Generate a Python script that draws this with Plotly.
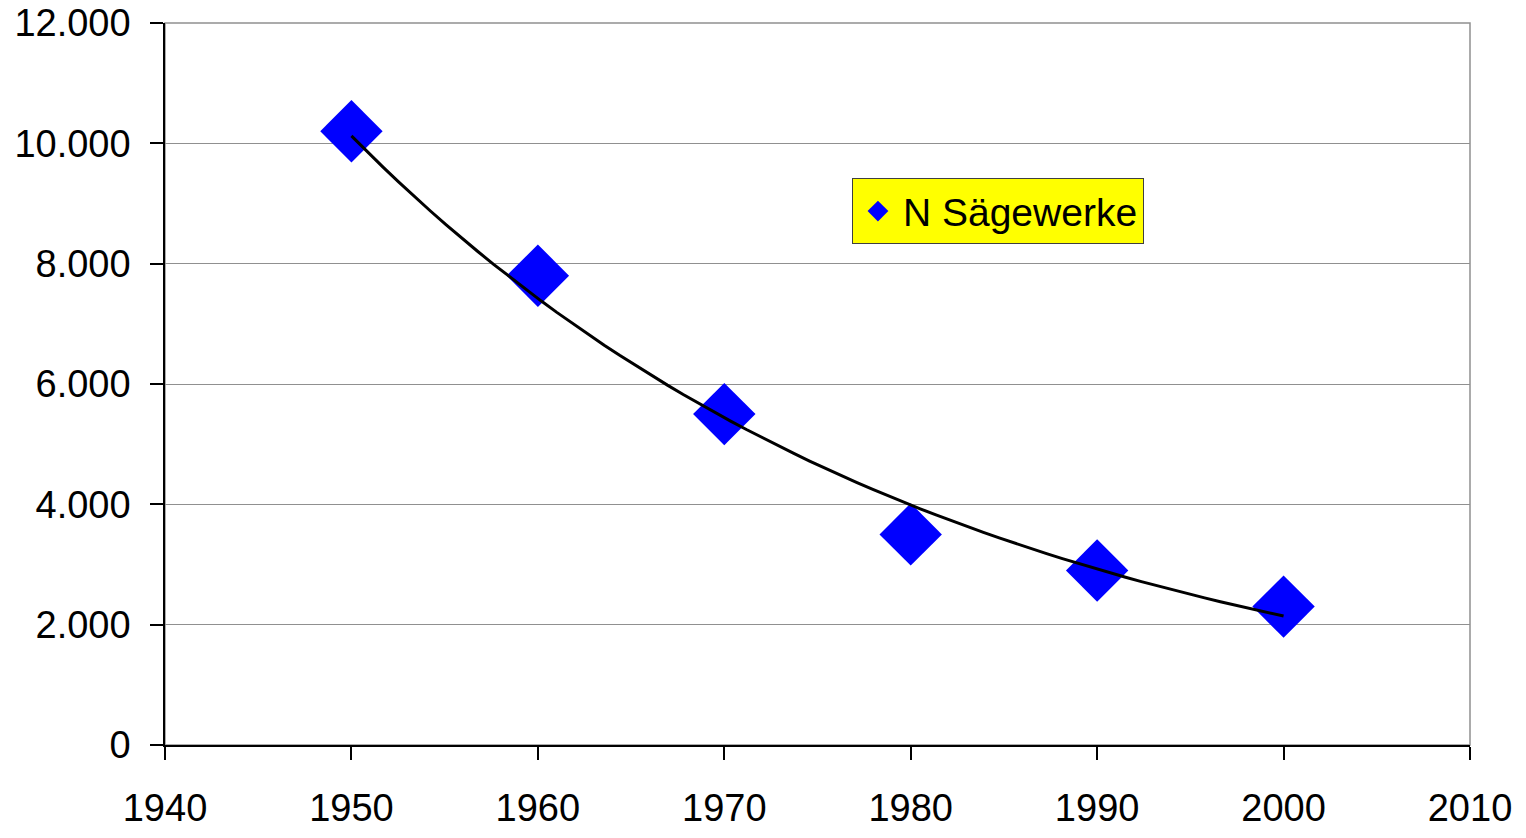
import numpy as np
import plotly.graph_objects as go

years = [1950, 1960, 1970, 1980, 1990, 2000]
saegewerke = [10200, 7800, 5500, 3500, 2900, 2300]
x_ticks = [1940, 1950, 1960, 1970, 1980, 1990, 2000, 2010]
y_ticks = [0, 2000, 4000, 6000, 8000, 10000, 12000]

# exponential trend line like the spreadsheet one
b, ln_a = np.polyfit(years, np.log(saegewerke), 1)
trend_x = np.linspace(years[0], years[-1], 60)
trend_y = np.exp(ln_a + b * trend_x)

font = 'Liberation Sans, Arial, sans-serif'

fig = go.Figure()
fig.add_trace(go.Scatter(
    x=years, y=saegewerke, mode='markers', name='N Sägewerke',
    marker=dict(symbol='diamond', size=48, color='#0000ff', line=dict(width=0)),
))
fig.add_trace(go.Scatter(
    x=trend_x, y=trend_y, mode='lines', showlegend=False,
    line=dict(color='black', width=3),
))

# page body has an 8px margin, so the figure is a bit smaller than the window
fig.update_layout(
    width=1518, height=830,
    margin=dict(l=157, r=56, t=15, b=93),
    plot_bgcolor='white', paper_bgcolor='white',
    separators=',.',
    font=dict(family=font, size=38, color='black'),
    legend=dict(x=0.5264, y=0.785, xanchor='left', yanchor='top',
                bgcolor='#ffff00', bordercolor='#404040', borderwidth=1,
                font=dict(size=39), itemsizing='trace', itemwidth=40),
)
fig.add_shape(type='rect', xref='paper', yref='paper', x0=0, x1=1, y0=0, y1=1,
              line=dict(color='#909090', width=1.5), layer='below')
fig.update_xaxes(range=[1940, 2010], tickvals=x_ticks, showgrid=False,
                 showline=True, linecolor='black', linewidth=1.5,
                 ticks='outside', ticklen=13, tickcolor='black', tickwidth=1.5,
                 ticklabelstandoff=16, ticklabeloverflow='allow',
                 zeroline=False, automargin=False)
fig.update_yaxes(range=[0, 12000], tickvals=y_ticks, tickformat=',d',
                 showgrid=True, gridcolor='#909090', gridwidth=1,
                 showline=True, linecolor='black', linewidth=1.5,
                 ticks='outside', ticklen=13, tickcolor='black', tickwidth=1.5,
                 ticklabelstandoff=12, ticklabeloverflow='allow',
                 zeroline=False, automargin=False)

fig.write_html("out.html")
